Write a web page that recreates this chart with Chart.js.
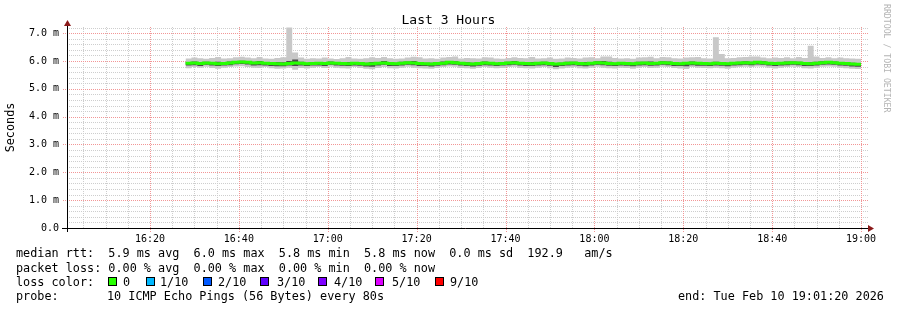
<!DOCTYPE html>
<html>
<head>
<meta charset="utf-8">
<script src="https://cdn.jsdelivr.net/npm/chart.js@4"></script>
<style>
  body { margin: 0; background: #fff; }
  #wrap { position: relative; width: 897px; height: 310px; overflow: hidden; }
  #grafico { position: absolute; left: 0; top: 0; }
  .txt { position: absolute; font-family: "DejaVu Sans Mono", monospace; font-size: 11.8px; line-height: 14px; color: #000; white-space: pre; }
  #titulo { left: 0; width: 897px; top: 12px; text-align: center; font-size: 13px; line-height: 15px; }
  #marca { position: absolute; left: 882px; top: 4px; writing-mode: vertical-rl; font-family: "DejaVu Sans Mono", monospace; font-size: 8.2px; color: #b4b4b4; white-space: pre; }
  .caja { position: absolute; width: 7px; height: 7px; border: 1px solid #000; }
</style>
</head>
<body>
<div id="wrap">
  <canvas id="grafico" width="897" height="310"></canvas>
  <div id="titulo" class="txt">Last 3 Hours</div>
  <div id="marca">RRDTOOL / TOBI OETIKER</div>
  <div class="txt" style="left:16px;top:246px">median rtt:  5.9 ms avg  6.0 ms max  5.8 ms min  5.8 ms now  0.0 ms sd  192.9   am/s</div>
  <div class="txt" style="left:16px;top:261px">packet loss: 0.00 % avg  0.00 % max  0.00 % min  0.00 % now</div>
  <div class="txt" style="left:16px;top:275px">loss color:</div>
  <div id="leyenda"></div>
  <div class="txt" style="left:16px;top:289px">probe:</div>
  <div class="txt" style="left:107px;top:289px">10 ICMP Echo Pings (56 Bytes) every 80s</div>
  <div class="txt" style="left:678px;top:289px">end: Tue Feb 10 19:01:20 2026</div>
</div>
<script>
// ventana del grafico
const inicioVentana = "16:01:20";
const finVentana = "19:01:20";
const inicioDatos = "16:28:00";
const pasoSegundos = 80;

const xTickLabels = ["16:20", "16:40", "17:00", "17:20", "17:40", "18:00", "18:20", "18:40", "19:00"];
const yTickLabels = ["0.0", "1.0 m", "2.0 m", "3.0 m", "4.0 m", "5.0 m", "6.0 m", "7.0 m"];

// valores en ms
const medianaRtt = [
  5.92, 5.93, 5.91, 5.93, 5.92, 5.90, 5.91, 5.93, 5.95, 5.96,
  5.95, 5.93, 5.94, 5.92, 5.91, 5.90, 5.89, 5.91, 5.93, 5.92,
  5.90, 5.91, 5.92, 5.91, 5.93, 5.92, 5.91, 5.90, 5.92, 5.91,
  5.89, 5.90, 5.92, 5.93, 5.91, 5.90, 5.92, 5.94, 5.93, 5.91,
  5.90, 5.89, 5.91, 5.92, 5.95, 5.94, 5.92, 5.90, 5.89, 5.91,
  5.93, 5.92, 5.90, 5.91, 5.93, 5.94, 5.92, 5.91, 5.90, 5.92,
  5.93, 5.91, 5.89, 5.90, 5.92, 5.93, 5.91, 5.90, 5.92, 5.94,
  5.93, 5.91, 5.90, 5.92, 5.91, 5.90, 5.92, 5.93, 5.91, 5.92,
  5.94, 5.93, 5.91, 5.90, 5.92, 5.93, 5.92, 5.91, 5.90, 5.92,
  5.91, 5.90, 5.92, 5.93, 5.94, 5.93, 5.95, 5.94, 5.92, 5.91,
  5.92, 5.93, 5.94, 5.93, 5.91, 5.90, 5.92, 5.94, 5.95, 5.94,
  5.92, 5.91, 5.89, 5.88
];
const maxRtt = [
  6.09, 6.12, 6.10, 6.08, 6.11, 6.14, 6.09, 6.10, 6.13, 6.15,
  6.12, 6.10, 6.14, 6.09, 6.08, 6.11, 6.13, 7.20, 6.30, 6.12,
  6.08, 6.10, 6.09, 6.12, 6.09, 6.07, 6.10, 6.14, 6.09, 6.08,
  6.10, 6.13, 6.11, 6.14, 6.10, 6.08, 6.09, 6.12, 6.15, 6.13,
  6.09, 6.10, 6.08, 6.12, 6.14, 6.16, 6.09, 6.11, 6.10, 6.09,
  6.13, 6.12, 6.09, 6.08, 6.11, 6.13, 6.11, 6.10, 6.14, 6.09,
  6.10, 6.12, 6.08, 6.09, 6.12, 6.11, 6.09, 6.12, 6.13, 6.10,
  6.16, 6.16, 6.11, 6.09, 6.10, 6.08, 6.12, 6.13, 6.15, 6.10,
  6.14, 6.13, 6.10, 6.09, 6.12, 6.13, 6.14, 6.10, 6.09, 6.85,
  6.25, 6.10, 6.11, 6.13, 6.14, 6.16, 6.16, 6.12, 6.10, 6.12,
  6.11, 6.13, 6.10, 6.14, 6.11, 6.55, 6.16, 6.11, 6.13, 6.10,
  6.12, 6.10, 6.09, 6.08
];
const minRtt = [
  5.74, 5.78, 5.76, 5.79, 5.75, 5.72, 5.76, 5.78, 5.80, 5.81,
  5.78, 5.76, 5.75, 5.78, 5.74, 5.72, 5.73, 5.76, 5.68, 5.75,
  5.73, 5.76, 5.78, 5.75, 5.79, 5.76, 5.74, 5.73, 5.78, 5.75,
  5.72, 5.70, 5.75, 5.78, 5.74, 5.73, 5.76, 5.79, 5.76, 5.74,
  5.73, 5.72, 5.75, 5.78, 5.80, 5.79, 5.75, 5.74, 5.72, 5.75,
  5.78, 5.76, 5.74, 5.75, 5.78, 5.79, 5.75, 5.74, 5.73, 5.76,
  5.78, 5.74, 5.70, 5.73, 5.76, 5.78, 5.74, 5.73, 5.76, 5.79,
  5.76, 5.74, 5.73, 5.76, 5.75, 5.72, 5.76, 5.78, 5.75, 5.76,
  5.79, 5.78, 5.75, 5.73, 5.71, 5.78, 5.76, 5.75, 5.74, 5.76,
  5.74, 5.72, 5.76, 5.78, 5.79, 5.78, 5.80, 5.79, 5.76, 5.73,
  5.76, 5.78, 5.79, 5.78, 5.74, 5.73, 5.76, 5.79, 5.80, 5.79,
  5.76, 5.74, 5.72, 5.71
];
const altoRtt = [
  5.96, 5.98, 5.95, 5.97, 5.96, 5.97, 5.95, 5.98, 6.00, 6.01,
  5.99, 5.97, 6.00, 5.96, 5.95, 5.96, 5.95, 6.00, 6.05, 5.97,
  5.94, 5.96, 5.96, 5.95, 5.98, 5.96, 5.95, 5.96, 5.96, 5.95,
  5.94, 5.96, 5.96, 6.00, 5.95, 5.94, 5.97, 5.98, 6.00, 5.96,
  5.94, 5.94, 5.95, 5.98, 6.00, 5.99, 5.96, 5.95, 5.94, 5.95,
  5.98, 5.96, 5.94, 5.96, 5.97, 6.00, 5.96, 5.95, 5.96, 5.96,
  5.97, 5.96, 5.93, 5.94, 5.97, 5.97, 5.95, 5.96, 5.96, 5.99,
  6.00, 5.97, 5.94, 5.96, 5.95, 5.94, 5.97, 5.97, 5.98, 5.96,
  5.99, 5.98, 5.95, 5.94, 5.96, 5.98, 5.96, 5.95, 5.94, 5.97,
  5.96, 5.94, 5.96, 5.97, 5.99, 5.97, 6.00, 5.99, 5.96, 5.95,
  5.96, 5.98, 5.98, 5.97, 5.95, 5.95, 5.97, 5.99, 6.00, 5.98,
  5.96, 5.95, 5.94, 5.93
];
const bajoRtt = [
  5.84, 5.85, 5.82, 5.86, 5.84, 5.82, 5.84, 5.85, 5.88, 5.89,
  5.87, 5.84, 5.85, 5.84, 5.82, 5.81, 5.81, 5.84, 5.82, 5.84,
  5.82, 5.84, 5.84, 5.82, 5.86, 5.84, 5.83, 5.82, 5.84, 5.83,
  5.80, 5.79, 5.84, 5.86, 5.82, 5.82, 5.84, 5.86, 5.85, 5.82,
  5.82, 5.80, 5.83, 5.85, 5.87, 5.86, 5.84, 5.82, 5.80, 5.83,
  5.85, 5.84, 5.82, 5.84, 5.85, 5.86, 5.84, 5.82, 5.82, 5.84,
  5.85, 5.83, 5.78, 5.82, 5.84, 5.85, 5.83, 5.81, 5.84, 5.86,
  5.85, 5.83, 5.82, 5.84, 5.83, 5.81, 5.84, 5.85, 5.83, 5.84,
  5.86, 5.85, 5.82, 5.82, 5.81, 5.85, 5.83, 5.83, 5.82, 5.84,
  5.83, 5.81, 5.84, 5.85, 5.86, 5.85, 5.87, 5.86, 5.84, 5.82,
  5.84, 5.85, 5.86, 5.85, 5.82, 5.82, 5.84, 5.86, 5.87, 5.86,
  5.84, 5.83, 5.80, 5.79
];

const coloresPerdida = ["#26ff00", "#00b8ff", "#0059ff", "#5e00ff", "#7e00ff", "#dd00ff", "#ff0000"];
const etiquetasPerdida = ["0", "1/10", "2/10", "3/10", "4/10", "5/10", "9/10"];

const aSegundos = (hora) => {
  const p = hora.split(":").map(Number);
  return p[0] * 3600 + p[1] * 60 + (p[2] || 0);
};

const aHora = (seg) => {
  const h = Math.floor(seg / 3600);
  const m = Math.floor((seg % 3600) / 60);
  return String(h).padStart(2, "0") + ":" + String(m).padStart(2, "0");
};

// puntos escalonados; el ultimo se repite al cierre del paso
const armarSerie = (valores) => {
  const t0 = aSegundos(inicioDatos);
  const puntos = valores.map((v, i) => ({ x: t0 + i * pasoSegundos, y: v }));
  puntos.push({ x: t0 + valores.length * pasoSegundos, y: valores[valores.length - 1] });
  return puntos;
};

// leyenda de colores de perdida
const posCajas = [108, 146, 203, 260, 318, 375, 435];
const posTextos = [123, 160, 218, 277, 334, 392, 450];
const leyenda = document.getElementById("leyenda");
coloresPerdida.forEach((color, i) => {
  const caja = document.createElement("div");
  caja.className = "caja";
  caja.style.left = posCajas[i] + "px";
  caja.style.top = "277px";
  caja.style.background = color;
  leyenda.appendChild(caja);
  const texto = document.createElement("div");
  texto.className = "txt";
  texto.style.left = posTextos[i] + "px";
  texto.style.top = "275px";
  texto.textContent = etiquetasPerdida[i];
  leyenda.appendChild(texto);
});

const mayoresX = xTickLabels.map(aSegundos);
const esMayorY = (v) => Math.abs(v - Math.round(v)) < 1e-6;
const ROJO = "rgb(242,150,150)";
const GRIS = "rgb(206,206,206)";

// rejilla punteada estilo rrdtool
const rejilla = {
  id: "rejilla",
  beforeDatasetsDraw(chart) {
    const { ctx, chartArea, scales } = chart;
    const { left, right, top, bottom } = chartArea;
    ctx.save();
    const lineasX = scales.x.ticks.map((t) => t.value);
    const lineasY = scales.y.ticks.map((t) => t.value);
    // primero las menores, luego las mayores encima
    [false, true].forEach((pasoMayor) => {
      lineasX.forEach((v) => {
        const mayor = mayoresX.includes(v);
        if (mayor !== pasoMayor) return;
        const px = Math.round(scales.x.getPixelForValue(v));
        ctx.fillStyle = mayor ? ROJO : GRIS;
        const fin = mayor ? bottom + 3 : bottom;
        for (let py = top; py <= fin; py += 2) ctx.fillRect(px, py, 1, 1);
      });
      lineasY.forEach((v) => {
        const mayor = esMayorY(v);
        if (mayor !== pasoMayor) return;
        const py = Math.round(scales.y.getPixelForValue(v));
        ctx.fillStyle = mayor ? ROJO : GRIS;
        const ini = mayor ? left - 4 : left;
        for (let px = ini; px <= right; px += 2) ctx.fillRect(px, py, 1, 1);
      });
    });
    ctx.restore();
  }
};

const ejes = {
  id: "ejes",
  afterDatasetsDraw(chart) {
    const { ctx, chartArea } = chart;
    const { left, right, top, bottom } = chartArea;
    ctx.save();
    ctx.strokeStyle = "#000";
    ctx.lineWidth = 1;
    ctx.beginPath();
    ctx.moveTo(left - 5, bottom + 0.5);
    ctx.lineTo(right + 2, bottom + 0.5);
    ctx.moveTo(left + 0.5, bottom + 4);
    ctx.lineTo(left + 0.5, top - 1);
    ctx.stroke();
    ctx.fillStyle = "#8b1a1a";
    ctx.beginPath();
    ctx.moveTo(right + 1, bottom - 3);
    ctx.lineTo(right + 7, bottom + 0.5);
    ctx.lineTo(right + 1, bottom + 4);
    ctx.fill();
    ctx.beginPath();
    ctx.moveTo(left - 3, top - 1);
    ctx.lineTo(left + 0.5, top - 7);
    ctx.lineTo(left + 4, top - 1);
    ctx.fill();
    ctx.restore();
  }
};

const fuenteEje = { family: "DejaVu Sans Mono", size: 10 };
const capa = (etiqueta, valores, relleno, color, orden) => ({
  label: etiqueta,
  data: armarSerie(valores),
  borderWidth: 0,
  borderColor: "rgba(0,0,0,0)",
  backgroundColor: color,
  stepped: true,
  pointRadius: 0,
  fill: relleno,
  order: orden
});

new Chart(document.querySelector("#grafico"), {
  type: "line",
  data: {
    datasets: [
      {
        label: "mediana",
        data: armarSerie(medianaRtt),
        borderColor: "#26ff00",
        borderWidth: 3,
        stepped: true,
        pointRadius: 0,
        fill: false,
        order: 0
      },
      capa("alto", altoRtt, "+1", "#4a4a4a", 1),
      capa("bajo", bajoRtt, false, "#4a4a4a", 1),
      capa("max", maxRtt, "+1", "#c8c8c8", 2),
      capa("min", minRtt, false, "#c8c8c8", 2)
    ]
  },
  options: {
    responsive: false,
    animation: false,
    layout: { padding: { left: 0, top: 27, right: 30, bottom: 0 } },
    plugins: { legend: { display: false }, tooltip: { enabled: false }, title: { display: false } },
    scales: {
      x: {
        type: "linear",
        min: aSegundos(inicioVentana),
        max: aSegundos(finVentana),
        afterFit: (scale) => { scale.height = 82; },
        afterBuildTicks: (scale) => {
          const ticks = [];
          for (let t = Math.ceil(scale.min / 300) * 300; t <= scale.max; t += 300) ticks.push({ value: t });
          scale.ticks = ticks;
        },
        ticks: {
          autoSkip: false,
          maxRotation: 0,
          minRotation: 0,
          padding: 2,
          color: "#000",
          font: fuenteEje,
          callback: (v) => (mayoresX.includes(v) ? aHora(v) : "")
        },
        grid: { display: false, tickLength: 3 },
        border: { display: false }
      },
      y: {
        min: 0,
        max: 7.22,
        afterFit: (scale) => { scale.width = 67; },
        afterBuildTicks: (scale) => {
          const ticks = [];
          for (let k = 0; k <= 36; k++) ticks.push({ value: Math.round(k * 2) / 10 });
          scale.ticks = ticks;
        },
        ticks: {
          autoSkip: false,
          padding: 4,
          color: "#000",
          font: fuenteEje,
          callback: (v) => (esMayorY(v) ? yTickLabels[Math.round(v)] : "")
        },
        grid: { display: false, tickLength: 4 },
        border: { display: false },
        title: {
          display: true,
          text: "Seconds",
          color: "#000",
          font: { family: "DejaVu Sans Mono", size: 11.8 },
          padding: { top: 4, bottom: 0 }
        }
      }
    }
  },
  plugins: [rejilla, ejes]
});
</script>
</body>
</html>
